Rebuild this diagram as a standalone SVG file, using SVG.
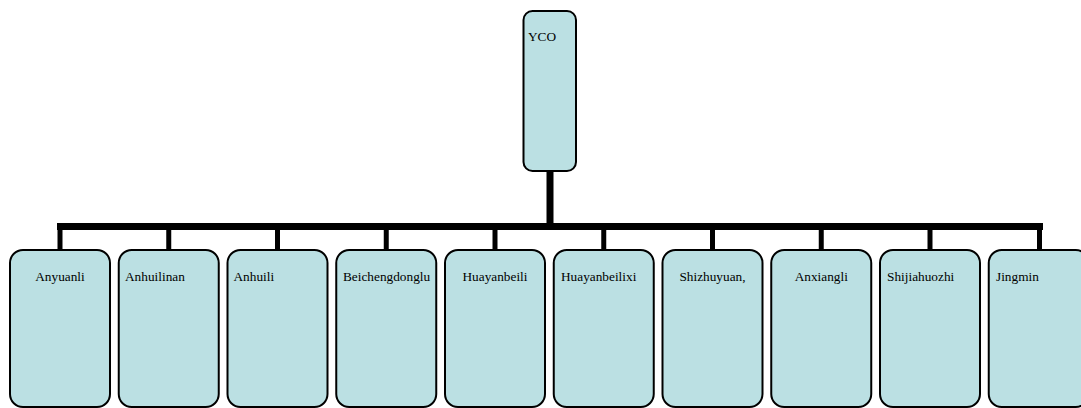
<svg xmlns="http://www.w3.org/2000/svg" width="1081" height="408" viewBox="0 0 1081 408">
<style>
.box{fill:#BBE0E3;stroke:#000;stroke-width:2}
.t{font-family:"Liberation Serif",serif;font-size:13.3px;fill:#000}
.c{text-anchor:middle}
.bar{stroke:#000;stroke-width:7;fill:none}
.drop{stroke:#000;stroke-width:5;fill:none}
</style>
<rect width="1081" height="408" fill="#fff"/>
<g id="connectors">
<line class="bar" x1="550" y1="171" x2="550" y2="227"/>
<line class="bar" x1="57" y1="226.5" x2="1043" y2="226.5"/>
<line class="drop" x1="60" y1="226" x2="60" y2="251"/>
<line class="drop" x1="168.75" y1="226" x2="168.75" y2="251"/>
<line class="drop" x1="277.5" y1="226" x2="277.5" y2="251"/>
<line class="drop" x1="386.25" y1="226" x2="386.25" y2="251"/>
<line class="drop" x1="495" y1="226" x2="495" y2="251"/>
<line class="drop" x1="603.75" y1="226" x2="603.75" y2="251"/>
<line class="drop" x1="712.5" y1="226" x2="712.5" y2="251"/>
<line class="drop" x1="821.25" y1="226" x2="821.25" y2="251"/>
<line class="drop" x1="930" y1="226" x2="930" y2="251"/>
<line class="drop" x1="1039.5" y1="226" x2="1039.5" y2="251"/>
</g>
<g id="n-yco"><rect class="box" x="523.5" y="11" width="52.5" height="160" rx="9"/><text class="t" x="528" y="41">YCO</text></g>
<g id="n1"><rect class="box" x="10" y="250" width="100" height="157" rx="13"/><text class="t c" x="60" y="281">Anyuanli</text></g>
<g id="n2"><rect class="box" x="118.75" y="250" width="100" height="157" rx="13"/><text class="t" x="125" y="281">Anhuilinan</text></g>
<g id="n3"><rect class="box" x="227.5" y="250" width="100" height="157" rx="13"/><text class="t" x="233.5" y="281">Anhuili</text></g>
<g id="n4"><rect class="box" x="336.25" y="250" width="100" height="157" rx="13"/><text class="t" x="343" y="281">Beichengdonglu</text></g>
<g id="n5"><rect class="box" x="445" y="250" width="100" height="157" rx="13"/><text class="t c" x="495" y="281">Huayanbeili</text></g>
<g id="n6"><rect class="box" x="553.75" y="250" width="100" height="157" rx="13"/><text class="t" x="561" y="281">Huayanbeilixi</text></g>
<g id="n7"><rect class="box" x="662.5" y="250" width="100" height="157" rx="13"/><text class="t c" x="712.5" y="281">Shizhuyuan,</text></g>
<g id="n8"><rect class="box" x="771.25" y="250" width="100" height="157" rx="13"/><text class="t c" x="821.25" y="281">Anxiangli</text></g>
<g id="n9"><rect class="box" x="880" y="250" width="100" height="157" rx="13"/><text class="t" x="887" y="281">Shijiahuozhi</text></g>
<g id="n10"><rect class="box" x="988.75" y="250" width="100" height="157" rx="13"/><text class="t" x="996" y="281">Jingmin</text></g>
</svg>
